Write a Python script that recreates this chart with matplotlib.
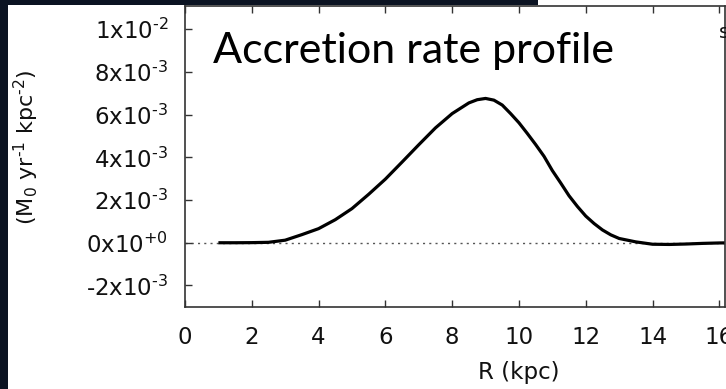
import matplotlib
matplotlib.use('Agg')
import matplotlib.pyplot as plt
from matplotlib.patches import Rectangle
from matplotlib.ticker import FixedLocator, FixedFormatter

# accretion rate profile (M0 / yr / kpc^2) against galactocentric radius
radius_kpc = [1.0, 1.5, 2.0, 2.5, 3.0, 3.5, 4.0, 4.5, 5.0, 5.5, 6.0, 6.5, 7.0,
              7.5, 8.0, 8.5, 8.75, 9.0, 9.25, 9.5, 9.75, 10.0, 10.25, 10.5,
              10.75, 11.0, 11.25, 11.5, 11.75, 12.0, 12.25, 12.5, 12.75, 13.0,
              13.5, 14.0, 14.5, 15.0, 15.5, 16.0, 16.5]
accretion = [0.0, 0.0, 0.005e-3, 0.02e-3, 0.12e-3, 0.38e-3, 0.66e-3, 1.08e-3,
             1.6e-3, 2.27e-3, 2.98e-3, 3.78e-3, 4.59e-3, 5.38e-3, 6.05e-3,
             6.55e-3, 6.7e-3, 6.76e-3, 6.68e-3, 6.45e-3, 6.05e-3, 5.62e-3,
             5.12e-3, 4.6e-3, 4.05e-3, 3.38e-3, 2.8e-3, 2.2e-3, 1.7e-3,
             1.25e-3, 0.9e-3, 0.6e-3, 0.37e-3, 0.2e-3, 0.04e-3, -0.07e-3,
             -0.08e-3, -0.06e-3, -0.03e-3, -0.01e-3, 0.0]

x_ticks = [0, 2, 4, 6, 8, 10, 12, 14, 16]
y_ticks = [-2e-3, 0.0, 2e-3, 4e-3, 6e-3, 8e-3, 1e-2]
y_tick_labels = [r'$\mathregular{\text{-}2x10^{\text{-}3}}$', r'$\mathregular{0x10^{+0}}$',
                 r'$\mathregular{2x10^{\text{-}3}}$', r'$\mathregular{4x10^{\text{-}3}}$',
                 r'$\mathregular{6x10^{\text{-}3}}$', r'$\mathregular{8x10^{\text{-}3}}$',
                 r'$\mathregular{1x10^{\text{-}2}}$']

W, H = 726, 389
bg_dark = '#0b1322'

fig = plt.figure(figsize=(W / 100, H / 100), dpi=100, facecolor='white')

# slide background showing around the pasted plot
fig.patches.append(Rectangle((0, 0), 8 / W, 1, transform=fig.transFigure,
                             facecolor=bg_dark, edgecolor='none', zorder=0))
fig.patches.append(Rectangle((0, 1 - 5 / H), 538 / W, 5 / H, transform=fig.transFigure,
                             facecolor=bg_dark, edgecolor='none', zorder=0))

ax = fig.add_axes([185 / W, (H - 307) / H, 540 / W, 301 / H])
ax.set_facecolor('white')

ax.axhline(0, color='#555555', lw=1.0, ls=(0, (1.5, 3)), zorder=1)
ax.plot(radius_kpc, accretion, color='black', lw=2.3, solid_capstyle='butt',
        solid_joinstyle='round', zorder=2)

ax.set_xlim(0, 16.17)
ax.set_ylim(-3.01e-3, 1.109e-2)

ax.xaxis.set_major_locator(FixedLocator(x_ticks))
ax.yaxis.set_major_locator(FixedLocator(y_ticks))
ax.yaxis.set_major_formatter(FixedFormatter(y_tick_labels))

ax.tick_params(axis='both', direction='in', length=5, width=1, color='#333333',
               labelsize=16.5, labelcolor='#111111', top=True, right=False)
ax.tick_params(axis='y', pad=12)
ax.tick_params(axis='x', pad=14)
for side in ['left', 'bottom', 'top', 'right']:
    ax.spines[side].set_color('#333333')
    ax.spines[side].set_linewidth(1.2)

fig.text(519 / W, 1 - 373 / H, 'R (kpc)', ha='center', va='center',
         fontsize=16.5, color='#111111')
fig.text(26 / W, 1 - 147 / H, r'(M$_0$ yr$^{\text{-}1}$ kpc$^{\text{-}2}$)',
         ha='center', va='center', rotation=90, fontsize=16, color='#111111')

fig.text(213 / W, 1 - 63 / H, 'Accretion rate profile', ha='left', va='baseline',
         fontsize=31, family='Lato', color='black')
fig.text(719 / W, 1 - 38 / H, 'sim', ha='left', va='baseline',
         fontsize=14, color='#111111')

fig.savefig('out.png', dpi=100, facecolor=fig.get_facecolor())
